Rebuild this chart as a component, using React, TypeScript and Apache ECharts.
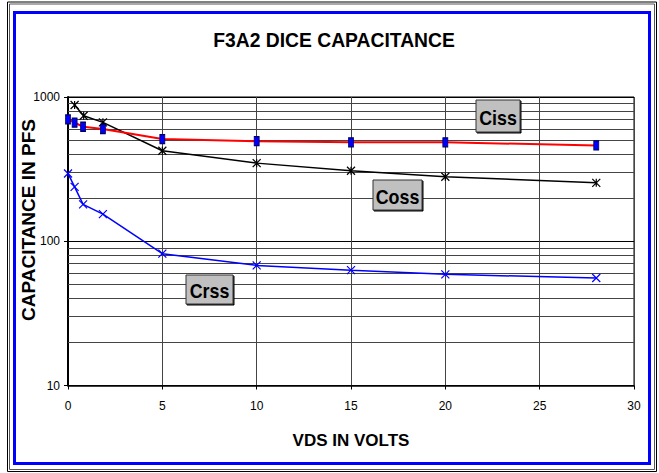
import React, { useEffect, useRef } from "react";
import * as echarts from "echarts";

const titleText = "F3A2 DICE CAPACITANCE";
const xAxisTitle = "VDS IN VOLTS";
const yAxisTitle = "CAPACITANCE IN PFS";

const cissX = [0, 0.35, 0.8, 1.85, 5, 10, 15, 20, 28];
const cissY = [700, 664, 622, 600, 511, 494, 485, 485, 462];
const cossX = [0.35, 0.83, 1.85, 5, 10, 15, 20, 28];
const cossY = [880, 741, 667, 424, 348, 308, 280, 254];
const crssX = [0, 0.35, 0.8, 1.85, 5, 10, 15, 20, 28];
const crssY = [295, 238, 180, 154, 82, 68, 63, 59, 55.6];
const minorGridValues = [20, 30, 40, 50, 60, 70, 80, 90, 200, 300, 400, 500, 600, 700, 800, 900];
const seriesLabels = ["Ciss", "Coss", "Crss"];

const FONT = "'Liberation Sans', Arial, sans-serif";

const pairs = (xs: number[], ys: number[]) => xs.map((x, i) => [x, ys[i]]);

function labelBox(text: string, x: number, y: number, w: number, h: number) {
  return {
    type: "group",
    z: 100,
    children: [
      {
        type: "rect",
        z: 100,
        shape: { x, y, width: w, height: h },
        style: { fill: "#c0c0c0", stroke: "#333", lineWidth: 1, shadowColor: "#000", shadowOffsetX: 1, shadowOffsetY: 1, shadowBlur: 0 },
      },
      {
        type: "text",
        z: 101,
        x: x + w / 2,
        y: y + h / 2 + 1,
        scaleX: 0.85,
        style: { text, fill: "#000", font: `bold 21px ${FONT}`, align: "center", verticalAlign: "middle" },
      },
    ],
  };
}

export default function App() {
  const ref = useRef<HTMLDivElement>(null);
  useEffect(() => {
    if (!ref.current) return;
    const chart = echarts.init(ref.current, null, { renderer: "svg" });
    chart.setOption({
      animation: false,
      backgroundColor: "#fff",
      grid: { left: 68, top: 97, width: 566, height: 288.5, show: true, borderColor: "#000", borderWidth: 1, backgroundColor: "transparent" },
      xAxis: {
        type: "value",
        min: 0,
        max: 30,
        interval: 5,
        axisLine: { show: true, lineStyle: { color: "#000", width: 1.5 } },
        axisTick: { show: true, length: 4, lineStyle: { color: "#000" } },
        axisLabel: { color: "#000", fontSize: 12, fontFamily: FONT, margin: 14 },
        splitLine: { show: true, lineStyle: { color: "#444", width: 1 } },
      },
      yAxis: {
        type: "log",
        logBase: 10,
        min: 10,
        max: 1000,
        axisLine: { show: true, lineStyle: { color: "#000", width: 2 } },
        axisTick: { show: true, length: 4, lineStyle: { color: "#000" } },
        axisLabel: { color: "#000", fontSize: 12, fontFamily: FONT, margin: 8, formatter: (v: number) => String(Math.round(v)) },
        splitLine: { show: true, lineStyle: { color: "#000", width: 1 } },
      },
      graphic: [
        { type: "rect", shape: { x: 7.5, y: 2, width: 649, height: 469.5 }, style: { fill: "none", stroke: "#000", lineWidth: 1 } },
        { type: "rect", shape: { x: 9.5, y: 4, width: 645, height: 465.5 }, style: { fill: "none", stroke: "#555", lineWidth: 1 } },
        { type: "rect", shape: { x: 14.5, y: 12.5, width: 635, height: 451 }, style: { fill: "none", stroke: "#0000ff", lineWidth: 3 } },
        {
          type: "text",
          x: 334,
          y: 40,
          scaleX: 0.92,
          style: { text: titleText, fill: "#000", font: `bold 21px ${FONT}`, align: "center", verticalAlign: "middle" },
        },
        {
          type: "text",
          x: 351,
          y: 440,
          style: { text: xAxisTitle, fill: "#000", font: `bold 17px ${FONT}`, align: "center", verticalAlign: "middle" },
        },
        {
          type: "text",
          x: 28,
          y: 220,
          rotation: Math.PI / 2,
          style: { text: yAxisTitle, fill: "#000", font: `bold 19px ${FONT}`, align: "center", verticalAlign: "middle" },
        },
        labelBox(seriesLabels[0], 476, 100, 44, 32),
        labelBox(seriesLabels[1], 373, 180, 49, 30),
        labelBox(seriesLabels[2], 186, 275, 47, 29),
      ],
      series: [
        {
          type: "line",
          name: "grid",
          data: [],
          silent: true,
          z: 1,
          markLine: {
            silent: true,
            symbol: "none",
            z: 1,
            label: { show: false },
            lineStyle: { color: "#444", width: 1, type: "solid" },
            data: minorGridValues.map((v) => ({ yAxis: v })),
          },
        },
        {
          type: "line",
          name: seriesLabels[0],
          data: pairs(cissX, cissY),
          clip: false,
          symbol: "rect",
          symbolSize: [5, 9],
          lineStyle: { color: "#ff0000", width: 2 },
          itemStyle: { color: "#0000ff", borderColor: "#000060", borderWidth: 1 },
          z: 5,
        },
        {
          type: "line",
          name: seriesLabels[1],
          data: pairs(cossX, cossY),
          clip: false,
          symbol: "path://M0,0L8,8M8,0L0,8M4,0L4,8",
          symbolSize: 8,
          lineStyle: { color: "#000", width: 1.5 },
          itemStyle: { color: "transparent", borderColor: "#000", borderWidth: 1.2 },
          z: 4,
        },
        {
          type: "line",
          name: seriesLabels[2],
          data: pairs(crssX, crssY),
          clip: false,
          symbol: "path://M0,0L8,8M8,0L0,8",
          symbolSize: 8,
          lineStyle: { color: "#0000ff", width: 1.5 },
          itemStyle: { color: "transparent", borderColor: "#0000ff", borderWidth: 1.2 },
          z: 4,
        },
      ],
    });
    return () => chart.dispose();
  }, []);
  return <div ref={ref} style={{ position: "absolute", left: 0, top: 0, width: 659, height: 473 }} />;
}
